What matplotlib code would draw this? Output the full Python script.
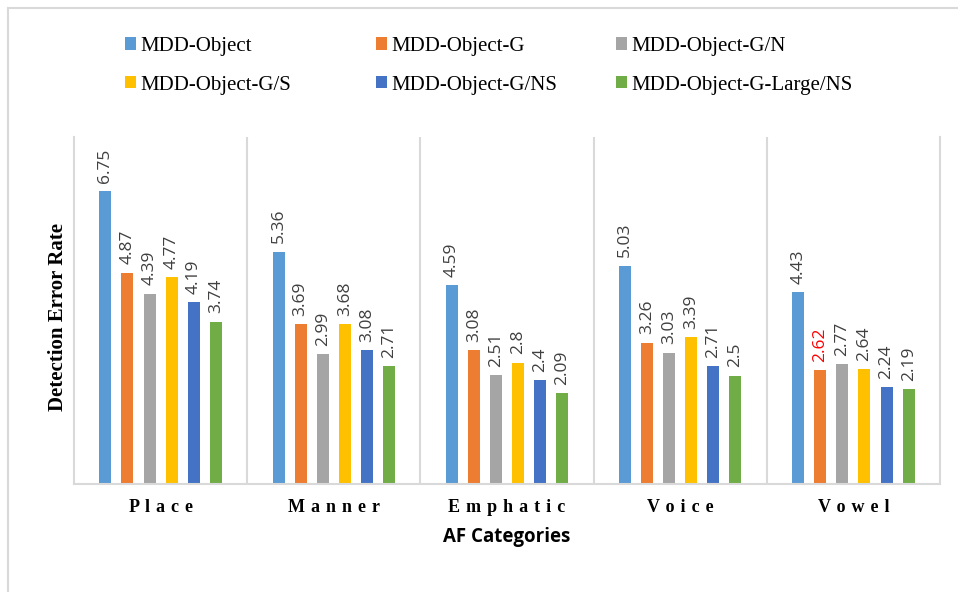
import matplotlib.pyplot as plt
import numpy as np
from matplotlib.lines import Line2D

categories = ["Place", "Manner", "Emphatic", "Voice", "Vowel"]
series_names = ["MDD-Object", "MDD-Object-G", "MDD-Object-G/N",
                "MDD-Object-G/S", "MDD-Object-G/NS", "MDD-Object-G-Large/NS"]
mdd_object = [6.75, 5.36, 4.59, 5.03, 4.43]
mdd_object_g = [4.87, 3.69, 3.08, 3.26, 2.62]
mdd_object_gn = [4.39, 2.99, 2.51, 3.03, 2.77]
mdd_object_gs = [4.77, 3.68, 2.8, 3.39, 2.64]
mdd_object_gns = [4.19, 3.08, 2.4, 2.71, 2.24]
mdd_object_glarge = [3.74, 2.71, 2.09, 2.5, 2.19]
values = [mdd_object, mdd_object_g, mdd_object_gn, mdd_object_gs,
          mdd_object_gns, mdd_object_glarge]
colors = ["#5b9bd5", "#ed7d31", "#a5a5a5", "#ffc000", "#4472c4", "#70ad47"]

fig = plt.figure(figsize=(9.58, 5.92), dpi=100)
ax = fig.add_axes([74 / 958, 1 - 484 / 592, 866 / 958, 347 / 592])

x = np.arange(len(categories))
step = 0.1276
width = 0.069
handles = []
for i, (name, vals, c) in enumerate(zip(series_names, values, colors)):
    pos = x + (i - 2.5) * step
    bars = ax.bar(pos, vals, width, color=c, label=name)
    handles.append(bars)
    for j, (b, v) in enumerate(zip(bars, vals)):
        lab_col = "red" if (i == 1 and j == 4) else "#404040"
        ax.annotate(f"{v:g}", (b.get_x() + b.get_width() / 2, v),
                    xytext=(0, 6), textcoords="offset points",
                    rotation=90, ha="center", va="bottom",
                    fontsize=12.5, color=lab_col, family="Open Sans")

ax.set_xlim(-0.5, len(categories) - 0.5)
ax.set_ylim(0, 8)
ax.set_yticks([])
ax.set_xticks(x)
ax.set_xticklabels([" \u200a".join(c) for c in categories],
                   family=["Liberation Serif", "DejaVu Serif"],
                   fontweight="bold", fontsize=13)
ax.tick_params(axis="x", length=0, pad=11)
for b in np.arange(0.5, len(categories) - 0.5, 1):
    ax.axvline(b, color="#d9d9d9", lw=1.5)
ax.spines["top"].set_visible(False)
for s in ["left", "right", "bottom"]:
    ax.spines[s].set_color("#d9d9d9")
    ax.spines[s].set_linewidth(1.5)

ax.set_ylabel("Detection Error Rate", family="Liberation Serif",
              fontweight="bold", fontsize=15)
ax.yaxis.set_label_coords(-0.007, 0.48)
ax.set_xlabel("AF Categories", family="Open Sans", fontweight="bold",
              fontsize=13.5, labelpad=8)

# legend: three fixed-width columns, filled row by row
col_x = [106, 357, 597]
for k in range(3):
    fig.legend([handles[k], handles[k + 3]],
               [series_names[k], series_names[k + 3]],
               loc="upper left", bbox_to_anchor=(col_x[k] / 958, 1 - 18 / 592),
               frameon=False, prop={"family": "Liberation Serif", "size": 15},
               handlelength=0.55, handleheight=0.55, handletextpad=0.2,
               labelspacing=0.95)

# outer border of the chart area
fig.add_artist(Line2D([8 / 958, 8 / 958], [0, 1 - 8 / 592], color="#d9d9d9",
                      lw=1.5, transform=fig.transFigure))
fig.add_artist(Line2D([8 / 958, 1], [1 - 8 / 592, 1 - 8 / 592], color="#d9d9d9",
                      lw=1.5, transform=fig.transFigure))

fig.savefig("out.png", dpi=100)
